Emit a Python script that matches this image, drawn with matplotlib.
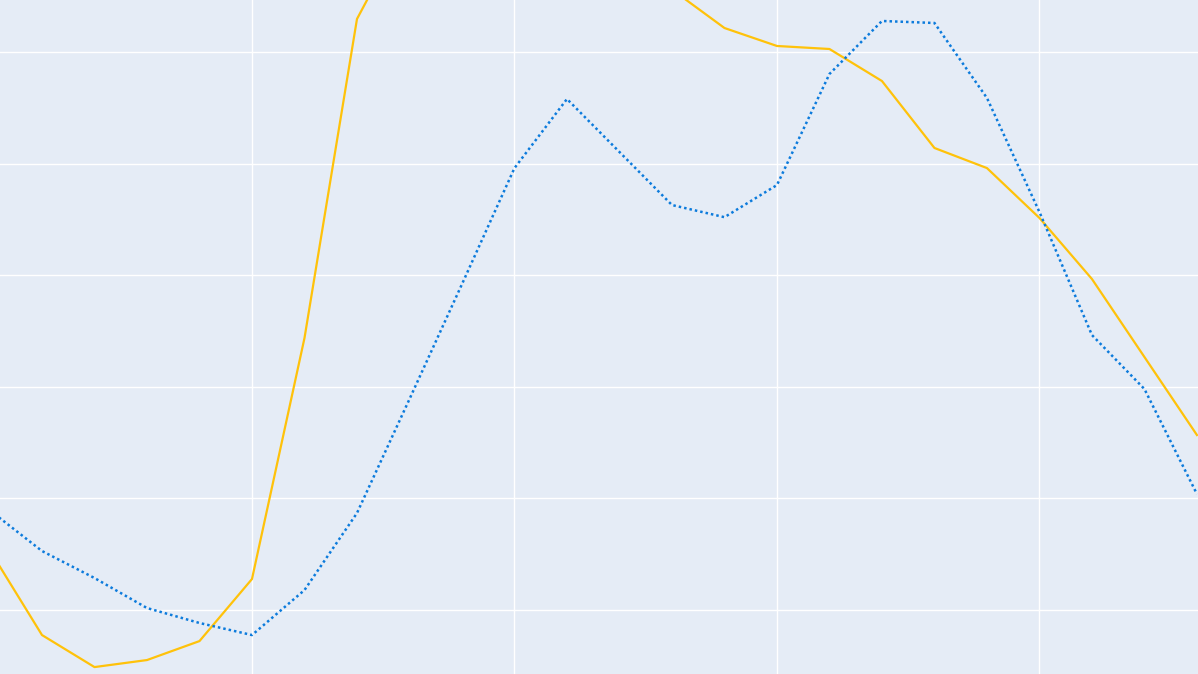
import matplotlib
matplotlib.use("Agg")
import matplotlib.pyplot as plt

# x positions (step index) and the two series
steps = list(range(24))
series_a = [15.4, 7.76, 4.89, 5.52, 7.22, 12.78, 34.37, 62.96, 71.8, 76.3,
            78.1, 75.4, 70.9, 65.6, 62.15, 60.54, 60.27, 57.4, 51.4, 49.6,
            45.13, 39.66, 32.67, 25.68]
series_b = [18.96, 15.29, 12.87, 10.18, 8.84, 7.76, 11.79, 18.69, 28.9, 39.2,
            49.6, 55.79, 51.04, 46.29, 45.2, 48.08, 58.03, 62.78, 62.6, 55.88,
            45.66, 34.64, 29.8, 20.39]
x_ticks = [5, 10, 15, 20]
y_ticks = [10, 20, 30, 40, 50, 60]

fig = plt.figure(figsize=(11.98, 6.74), dpi=100)
ax = fig.add_axes([0, 0, 1, 1])
ax.set_facecolor("#E5ECF6")
fig.patch.set_facecolor("#E5ECF6")

ax.plot(steps, series_a, color="#FFC20A", lw=1.6)
ax.plot(steps, series_b, color="#0C7BDC", lw=1.8, linestyle=(0, (1, 1.2)))

ax.set_xlim(0.2, 23.02)
ax.set_ylim(4.27, 64.66)
ax.set_xticks(x_ticks)
ax.set_yticks(y_ticks)
ax.grid(True, color="white", lw=1)
ax.set_axisbelow(True)
ax.tick_params(length=0, labelbottom=False, labelleft=False)
for s in ax.spines.values():
    s.set_visible(False)

fig.savefig("out.png", dpi=100, facecolor=fig.get_facecolor())
